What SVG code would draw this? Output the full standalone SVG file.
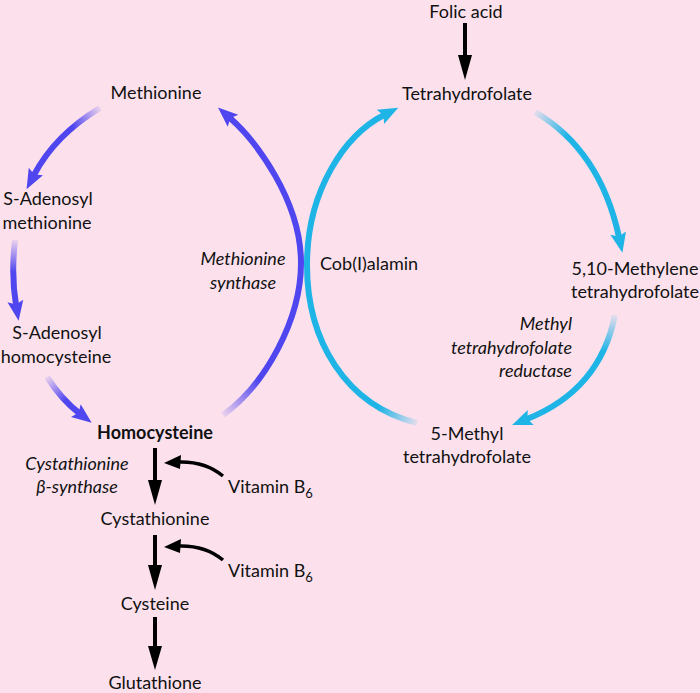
<svg xmlns="http://www.w3.org/2000/svg" width="700" height="693" viewBox="0 0 700 693">
<style>
text{font-family:Lato,"Open Sans","Liberation Sans",sans-serif;font-size:18px;fill:#111}
.c{text-anchor:middle}
.e{text-anchor:end}
.i{font-style:italic}
.b{font-weight:bold}
.pu{fill:none;stroke-width:6;stroke-linecap:butt}
.cy{fill:none;stroke-width:6;stroke-linecap:butt}
.blk{fill:none;stroke:#000;stroke-width:4}
.cur{fill:none;stroke:#000;stroke-width:3.5}
</style>
<defs>
<marker id="hp" markerUnits="userSpaceOnUse" viewBox="0 -9 22 18" refX="4" refY="0" markerWidth="22" markerHeight="18" orient="auto" overflow="visible">
<path d="M20,0 L0,-8 L3.5,0 L0,8 Z" fill="#5046F0"/>
</marker>
<marker id="hc" markerUnits="userSpaceOnUse" viewBox="0 -9 22 18" refX="4" refY="0" markerWidth="22" markerHeight="18" orient="auto" overflow="visible">
<path d="M20,0 L0,-8 L3.5,0 L0,8 Z" fill="#1EB4E6"/>
</marker>
<linearGradient id="gp1" gradientUnits="userSpaceOnUse" x1="100" y1="108" x2="72" y2="125"><stop offset="0" stop-color="#5046F0" stop-opacity="0.1"/><stop offset="1" stop-color="#5046F0"/></linearGradient>
<linearGradient id="gp2" gradientUnits="userSpaceOnUse" x1="15" y1="240" x2="13" y2="272"><stop offset="0" stop-color="#5046F0" stop-opacity="0.1"/><stop offset="1" stop-color="#5046F0"/></linearGradient>
<linearGradient id="gp3" gradientUnits="userSpaceOnUse" x1="47" y1="377" x2="66" y2="400"><stop offset="0" stop-color="#5046F0" stop-opacity="0.1"/><stop offset="1" stop-color="#5046F0"/></linearGradient>
<linearGradient id="gp4" gradientUnits="userSpaceOnUse" x1="223" y1="415" x2="262" y2="385"><stop offset="0" stop-color="#5046F0" stop-opacity="0.1"/><stop offset="1" stop-color="#5046F0"/></linearGradient>
<linearGradient id="gc1" gradientUnits="userSpaceOnUse" x1="417" y1="423" x2="378" y2="410"><stop offset="0" stop-color="#1EB4E6" stop-opacity="0.1"/><stop offset="1" stop-color="#1EB4E6"/></linearGradient>
<linearGradient id="gc2" gradientUnits="userSpaceOnUse" x1="535" y1="112" x2="570" y2="132"><stop offset="0" stop-color="#1EB4E6" stop-opacity="0.1"/><stop offset="1" stop-color="#1EB4E6"/></linearGradient>
<linearGradient id="gc3" gradientUnits="userSpaceOnUse" x1="615" y1="315" x2="607" y2="352"><stop offset="0" stop-color="#1EB4E6" stop-opacity="0.1"/><stop offset="1" stop-color="#1EB4E6"/></linearGradient>
</defs>
<rect width="700" height="693" fill="#FCE1ED"/>
<g id="connectors">
<path class="pu" stroke="url(#gp1)" marker-end="url(#hp)" d="M100,108 Q55,135 34,175"/>
<path class="pu" stroke="url(#gp2)" marker-end="url(#hp)" d="M15,240 Q11,275 16,305"/>
<path class="pu" stroke="url(#gp3)" marker-end="url(#hp)" d="M47,377 Q62,400 79,413"/>
<path class="pu" stroke="url(#gp4)" marker-end="url(#hp)" d="M223,415 C265,385 301,320 301,263 C301,200 255,140 230,118"/>
<path class="cy" stroke="url(#gc1)" marker-end="url(#hc)" d="M417,423 C345,405 307,340 307,265 C307,190 345,135 384,115"/>
<path class="cy" stroke="url(#gc2)" marker-end="url(#hc)" d="M535,112 Q600,150 619,237"/>
<path class="cy" stroke="url(#gc3)" marker-end="url(#hc)" d="M615,315 Q600,390 527,419"/>
<line class="blk" x1="465" y1="23" x2="465" y2="57"/>
<path d="M458,55 L472,55 L465,80 Z"/>
<line class="blk" x1="155" y1="448" x2="155" y2="482"/>
<path d="M148,480 L162,480 L155,505 Z"/>
<line class="blk" x1="155" y1="535" x2="155" y2="567"/>
<path d="M148,565 L162,565 L155,590 Z"/>
<line class="blk" x1="155" y1="617" x2="155" y2="648"/>
<path d="M148,646 L162,646 L155,670 Z"/>
<path class="cur" d="M178,462 Q205,461 223,476"/>
<path d="M164,463 L181,455 L180,469 Z"/>
<path class="cur" d="M178,546 Q205,545 223,560"/>
<path d="M164,547 L181,539 L180,553 Z"/>
</g>
<g id="folic"><text class="c" x="466" y="18">Folic acid</text></g>
<g id="thf"><text class="c" x="467" y="100">Tetrahydrofolate</text></g>
<g id="methylene"><text class="c" x="635" y="275">5,10-Methylene</text><text class="c" x="635" y="298">tetrahydrofolate</text></g>
<g id="mthfr"><text class="e i" x="572" y="330">Methyl</text><text class="e i" x="572" y="354">tetrahydrofolate</text><text class="e i" x="572" y="377">reductase</text></g>
<g id="methylthf"><text class="c" x="467" y="440">5-Methyl</text><text class="c" x="467" y="463">tetrahydrofolate</text></g>
<g id="cob"><text x="320" y="270">Cob(I)alamin</text></g>
<g id="methionine"><text class="c" x="156" y="99">Methionine</text></g>
<g id="sam"><text class="c" x="48" y="205">S-Adenosyl</text><text class="c" x="47" y="229">methionine</text></g>
<g id="sah"><text class="c" x="57" y="339">S-Adenosyl</text><text class="c" x="56" y="363">homocysteine</text></g>
<g id="ms"><text class="c i" x="243" y="265">Methionine</text><text class="c i" x="243" y="289">synthase</text></g>
<g id="homocysteine"><text class="c b" x="155" y="439">Homocysteine</text></g>
<g id="cbs"><text class="c i" x="77" y="470">Cystathionine</text><text class="c i" x="77" y="493">β-synthase</text></g>
<g id="vitb6a"><text x="228" y="493">Vitamin B<tspan font-size="13" dy="5">6</tspan></text></g>
<g id="cystathionine"><text class="c" x="155" y="525">Cystathionine</text></g>
<g id="vitb6b"><text x="228" y="577">Vitamin B<tspan font-size="13" dy="5">6</tspan></text></g>
<g id="cysteine"><text class="c" x="155" y="610">Cysteine</text></g>
<g id="glutathione"><text class="c" x="155" y="689">Glutathione</text></g>
</svg>
